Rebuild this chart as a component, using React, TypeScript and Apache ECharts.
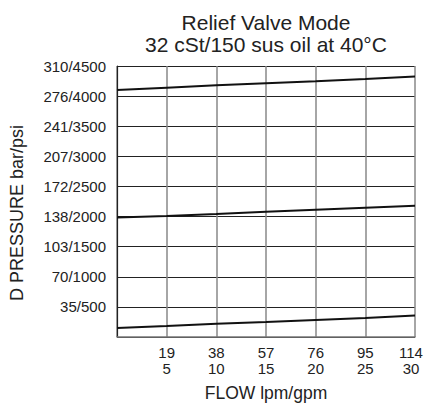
import React, { useEffect, useRef } from "react";
import * as echarts from "echarts";

const gpmTicks = [0, 5, 10, 15, 20, 25, 30];
const lpmTicks = [0, 19, 38, 57, 76, 95, 114];
const psiTicks = [0, 500, 1000, 1500, 2000, 2500, 3000, 3500, 4000, 4500];
const barTicks = [0, 35, 70, 103, 138, 172, 207, 241, 276, 310];

const flowGpm = [0, 5, 10, 15, 20, 25, 30];
const highSetting = [4100, 4140, 4180, 4213, 4246, 4284, 4324];
const midSetting = [1985, 2010, 2043, 2081, 2114, 2147, 2180];
const lowSetting = [149, 182, 220, 248, 282, 315, 358];

const FONT = "Liberation Sans, Arial, Helvetica, sans-serif";

export default function App() {
  const ref = useRef<HTMLDivElement>(null);
  useEffect(() => {
    if (!ref.current) return;
    const chart = echarts.init(ref.current, undefined, { renderer: "svg" });
    const mk = (vals: number[]) => ({
      type: "line",
      data: flowGpm.map((x, i) => [x, vals[i]]),
      showSymbol: false,
      symbol: "none",
      lineStyle: { color: "#111", width: 2 },
      z: 5,
    });
    chart.setOption({
      animation: false,
      backgroundColor: "#fff",
      grid: { left: 117, right: 9, top: 66, bottom: 69, outerBoundsMode: "none" },
      xAxis: {
        type: "value",
        min: 0,
        max: 30,
        interval: 5,
        axisLine: { show: true, lineStyle: { color: "#777", width: 1.5 } },
        axisTick: { show: false },
        splitLine: { show: true, lineStyle: { color: "#888", width: 1.5 } },
        axisLabel: {
          color: "#222",
          fontFamily: FONT,
          fontSize: 15,
          lineHeight: 15.5,
          margin: 8,
          showMinLabel: false,
          formatter: (v: number) => {
            const i = gpmTicks.indexOf(v);
            if (i <= 0) return "";
            const t = lpmTicks[i] + "\n" + gpmTicks[i];
            return i === gpmTicks.length - 1 ? "{last|" + t + "}" : t;
          },
          rich: {
            last: {
              fontFamily: FONT,
              fontSize: 15,
              lineHeight: 15.5,
              color: "#222",
              padding: [0, 8, 0, 0],
            },
          },
        },
      },
      yAxis: {
        type: "value",
        min: 0,
        max: 4500,
        interval: 500,
        axisLine: { show: true, lineStyle: { color: "#222", width: 1.2 } },
        axisTick: { show: false },
        splitLine: { show: true, lineStyle: { color: "#222", width: 1 } },
        axisLabel: {
          color: "#222",
          fontFamily: FONT,
          fontSize: 15,
          margin: 11,
          formatter: (v: number) => {
            const i = psiTicks.indexOf(v);
            if (i <= 0) return "";
            return barTicks[i] + "/" + psiTicks[i];
          },
        },
      },
      graphic: [
        {
          type: "text",
          x: 266,
          y: 22.5,
          style: {
            text: "Relief Valve Mode",
            fontFamily: FONT,
            fontSize: 21,
            fill: "#222",
            textAlign: "center",
            textVerticalAlign: "middle",
          },
        },
        {
          type: "text",
          x: 266,
          y: 44,
          style: {
            text: "32 cSt/150 sus oil at 40°C",
            fontFamily: FONT,
            fontSize: 21,
            fill: "#222",
            textAlign: "center",
            textVerticalAlign: "middle",
          },
        },
        {
          type: "text",
          x: 266,
          y: 393,
          style: {
            text: "FLOW lpm/gpm",
            fontFamily: FONT,
            fontSize: 17.5,
            fill: "#222",
            textAlign: "center",
            textVerticalAlign: "middle",
          },
        },
        {
          type: "text",
          x: 16.5,
          y: 213,
          rotation: Math.PI / 2,
          style: {
            text: "D PRESSURE bar/psi",
            fontFamily: FONT,
            fontSize: 18,
            fill: "#222",
            textAlign: "center",
            textVerticalAlign: "middle",
          },
        },
      ],
      series: [mk(highSetting), mk(midSetting), mk(lowSetting)],
    });
    return () => chart.dispose();
  }, []);
  return (
    <div
      ref={ref}
      style={{ position: "fixed", left: 0, top: 0, width: 424, height: 406 }}
    />
  );
}
